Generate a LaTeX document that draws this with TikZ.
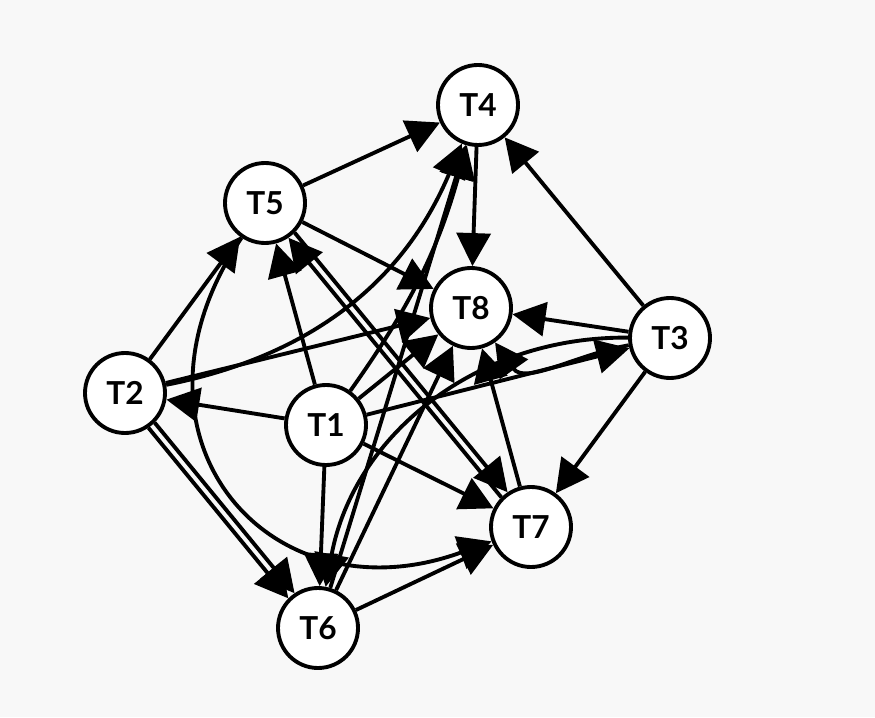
\documentclass[tikz,border=0pt]{standalone}
\usepackage{fontspec}
\setmainfont{Lato}
\usepackage{xcolor}
\usetikzlibrary{arrows.meta,positioning,calc,backgrounds}
\definecolor{bgcol}{HTML}{F8F8F8}

\begin{document}
\begin{tikzpicture}[
  tnode/.style={circle,fill=white,draw=black,line width=2.2pt,minimum size=1.6cm,inner sep=0pt,
    font=\fontsize{18}{20}\selectfont\bfseries},
  edge/.style={line width=2.2pt,-{Triangle[length=0.66cm,width=0.68cm]}}]
\useasboundingbox (0,0) rectangle (17.5,14.34);
\node[tnode] (T4) at (9.56,12.24) {T4};
\node[tnode] (T5) at (5.30,10.28) {T5};
\node[tnode] (T8) at (9.42,8.18) {T8};
\node[tnode] (T3) at (13.40,7.58) {T3};
\node[tnode] (T2) at (2.50,6.48) {T2};
\node[tnode] (T1) at (6.52,5.84) {T1};
\node[tnode] (T7) at (10.62,3.80) {T7};
\node[tnode] (T6) at (6.36,1.78) {T6};
\begin{scope}[on background layer]
\fill[bgcol] (0,0) rectangle (17.5,14.34);
\draw[edge] (T5) -- (T4);
\draw[edge] (T3) -- (T4);
\draw[edge] (T4) -- (T8);
\draw[edge] (T3) -- (T8);
\draw[edge] (T3) -- (T7);
\draw[edge] (T7) -- (T8);
\draw[edge] (T1) -- (T2);
\draw[edge] (T1) -- (T5);
\draw[edge] (T1) -- (T6);
\draw[edge] (T1) -- (T7);
\draw[edge] (T1) -- (T3);
\draw[edge] (T1) -- (T8);
\draw[edge] (T2) -- (T5);
\draw[edge] (T2) -- (T8);
\draw[edge] (T5) -- (T8);
\draw[edge] (T6) -- (T7);
\draw[edge] (T6) -- (T8);
\draw[edge] (T6) -- (T4);
\draw[edge] (T2.-45) -- (T6.124);
\draw[edge] (T2.-56) -- (T6.135);
\draw[edge] (T5.-45) -- (T7.124);
\draw[edge] (T7.135) -- (T5.-56);
\draw[edge] (T1) to[bend right=10] (T4);
\draw[edge] (T2) to[bend right=28] (T4);
\draw[edge] (T3) to[bend right=40] (T6);
\draw[edge] (T3) to[out=190,in=-55] (T8);
\draw[edge] (T5) to[out=236,in=200,looseness=1.55] (T7);
\end{scope}
\end{tikzpicture}
\end{document}
